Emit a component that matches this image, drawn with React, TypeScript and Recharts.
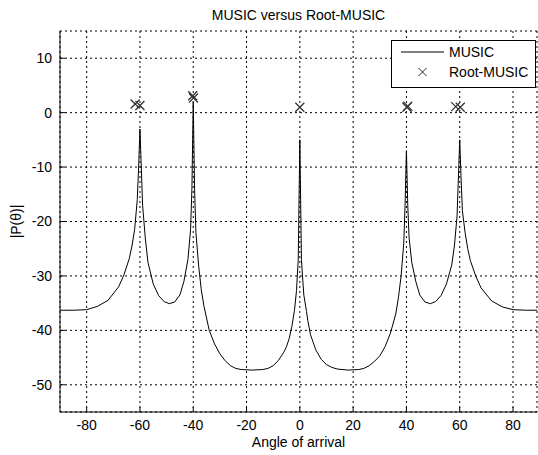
import React from 'react';
import {
  ComposedChart, Line, Scatter, XAxis, YAxis, CartesianGrid,
} from 'recharts';

const FONT = '"Liberation Sans", Arial, Helvetica, sans-serif';

// MUSIC pseudo-spectrum (angle in degrees, |P(θ)| in dB)
const musicAngles = [
  -90, -85, -80, -76, -72, -68, -66, -64, -63, -62, -61, -60.5, -60, -59.5, -59, -58, -57, -55, -53, -51,
  -49, -47, -45, -43.5, -42, -41, -40.5, -40, -39.5, -39, -38, -37, -36, -34, -32, -30, -28, -26, -24, -22,
  -18, -14, -12, -10, -8, -6, -5, -4, -3, -2, -1.25, -0.6, 0, 0.6, 1, 1.5, 2.5, 3, 4, 5,
  6, 8, 10, 12, 14, 18, 22, 24, 26, 28, 30, 32, 34, 36, 37, 38, 39, 39.5, 40, 40.5,
  41, 42, 43.5, 45, 47, 49, 51, 53, 55, 57, 58, 59, 59.5, 60, 60.5, 61, 62, 63, 64, 66,
  68, 72, 76, 80, 85, 89,
];
const musicValues = [
  -36.3, -36.3, -36.2, -35.6, -34.5, -32.0, -29.8, -26.8, -24.5, -21.5, -16, -10, -3, -10, -17, -23, -27.5, -31.5, -33.6, -34.7,
  -35.1, -34.8, -33.5, -31, -27, -21.5, -14, 2, -14, -22, -28, -32.5, -35.5, -40, -42.5, -44.3, -45.6, -46.5, -47, -47.2,
  -47.3, -47.2, -47, -46.5, -45.5, -44, -43, -41.5, -39.3, -36.3, -32.7, -27, -5, -27, -30, -33.5, -36.5, -38.2, -40.8, -42.2,
  -43.6, -45.3, -46.3, -46.8, -47.1, -47.3, -47.2, -47, -46.5, -45.7, -44.7, -43, -40.5, -37, -34, -30, -24, -17, -7, -17,
  -23, -27.5, -31, -33.5, -34.8, -35.1, -34.7, -33.6, -31.5, -28, -24.5, -19, -12, -5, -12, -18, -22, -25, -27.2, -30,
  -32.2, -34.6, -35.7, -36.2, -36.3, -36.3,
];

// Root-MUSIC estimates
const rootAngles = [-61.8, -60, -40.2, -39.9, 0, 40.2, 40.5, 58.5, 60.2];
const rootValues = [1.6, 1.3, 3.1, 2.7, 1.0, 1.0, 1.2, 1.1, 1.0];

const xTicks = [-80, -60, -40, -20, 0, 20, 40, 60, 80];
const yTicks = [-50, -40, -30, -20, -10, 0, 10];

const musicData = musicAngles.map((x, i) => ({ x, y: musicValues[i] }));
const rootData = rootAngles.map((x, i) => ({ x, y: rootValues[i] }));

const Cross = (props: any) => {
  const { cx, cy } = props;
  const r = 4.5;
  return (
    <path
      d={`M${cx - r},${cy - r}L${cx + r},${cy + r}M${cx - r},${cy + r}L${cx + r},${cy - r}`}
      stroke="#333"
      strokeWidth={1.3}
      fill="none"
    />
  );
};

// legend box drawn on top of the plot, like MATLAB's 'NorthEast' legend
const LegendBox = () => (
  <div style={{ position: 'absolute', left: 391, top: 40, width: 145, height: 48, boxSizing: 'border-box', border: '1px solid #000', background: '#fff', fontFamily: FONT, fontSize: 14, color: '#000', paddingTop: 1 }}>
    <div style={{ display: 'flex', alignItems: 'center', height: 20 }}>
      <svg width={57} height={20}>
        <line x1={9} y1={10} x2={52} y2={10} stroke="#000" strokeWidth={1} />
      </svg>
      <span>MUSIC</span>
    </div>
    <div style={{ display: 'flex', alignItems: 'center', height: 20 }}>
      <svg width={57} height={20}>
        <path d="M26.5,6L34.5,14M26.5,14L34.5,6" stroke="#222" strokeWidth={1} fill="none" />
      </svg>
      <span>Root-MUSIC</span>
    </div>
  </div>
);

const XLabel = (props: any) => {
  const { viewBox } = props;
  return (
    <text x={viewBox.x + viewBox.width / 2} y={viewBox.y + 35} textAnchor="middle" fontSize={14} fontFamily={FONT} fill="#000">
      Angle of arrival
    </text>
  );
};

const YLabel = (props: any) => {
  const { viewBox } = props;
  const x = 15.5;
  const y = viewBox.y + viewBox.height / 2;
  return (
    <text x={x} y={y} transform={`rotate(-90 ${x} ${y})`} textAnchor="middle" dominantBaseline="central" fontSize={14} fontFamily={FONT} fill="#000">
      |P(θ)|
    </text>
  );
};

export default function App() {
  const tickStyle = { fill: '#000', fontSize: 14, fontFamily: FONT };
  const tickLine = { stroke: '#000' };
  return (
    <div style={{ position: 'fixed', left: 0, top: 0, width: 538, height: 455, background: '#fff' }}>
      <div style={{ position: 'absolute', left: 60, width: 477, top: 6, textAlign: 'center', fontFamily: FONT, fontSize: 14, lineHeight: '18px', color: '#000' }}>
        MUSIC versus Root-MUSIC
      </div>
      <ComposedChart width={538} height={455} data={musicData} margin={{ top: 31, right: 1, bottom: 0, left: 8 }}>
        <CartesianGrid stroke="#000" strokeDasharray="2 3" horizontal vertical />
        {/* MATLAB-style inward ticks: negative tickSize, margin compensates */}
        <XAxis
          type="number" dataKey="x" domain={[-90, 89]} ticks={xTicks} allowDataOverflow
          height={43} tick={tickStyle} tickLine={tickLine} tickSize={-5} tickMargin={13}
          axisLine={{ stroke: '#000' }} label={<XLabel />}
        />
        <XAxis
          xAxisId="top" orientation="top" type="number" dataKey="x" domain={[-90, 89]} ticks={xTicks}
          height={0} tick={false} tickLine={tickLine} tickSize={-5} axisLine={{ stroke: '#000' }}
        />
        <YAxis
          type="number" domain={[-55, 15]} ticks={yTicks} allowDataOverflow
          width={52} tick={tickStyle} tickLine={tickLine} tickSize={-5} tickMargin={13}
          axisLine={{ stroke: '#000' }} label={<YLabel />}
        />
        <YAxis
          yAxisId="right" orientation="right" type="number" domain={[-55, 15]} ticks={yTicks}
          width={0} tick={false} tickLine={tickLine} tickSize={-5} axisLine={{ stroke: '#000' }}
        />
        <Line
          type="linear" dataKey="y" name="MUSIC" stroke="#000" strokeWidth={1}
          dot={false} activeDot={false} isAnimationActive={false}
        />
        <Scatter
          data={rootData} dataKey="y" name="Root-MUSIC" shape={<Cross />}
          isAnimationActive={false}
        />
      </ComposedChart>
      <LegendBox />
    </div>
  );
}
